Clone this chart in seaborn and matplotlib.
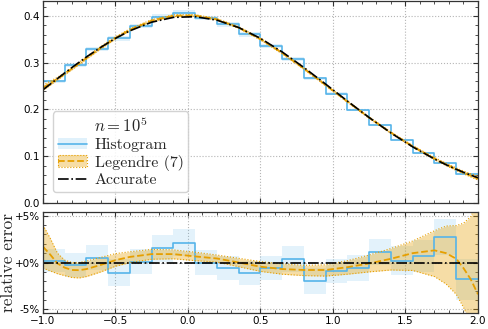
import matplotlib
matplotlib.use('Agg')
import matplotlib.pyplot as plt
import numpy as np
import seaborn as sns
from matplotlib.lines import Line2D
from matplotlib.patches import Patch
from matplotlib.ticker import MultipleLocator

# histogram (20 bins on [-1, 2])
edges = [-1.0, -0.85, -0.7, -0.55, -0.4, -0.25, -0.1, 0.05, 0.2, 0.35, 0.5,
         0.65, 0.8, 0.95, 1.1, 1.25, 1.4, 1.55, 1.7, 1.85, 2.0]
hist_density = [0.2607, 0.2946, 0.3298, 0.3525, 0.3787, 0.3988, 0.4072, 0.3958, 0.3818, 0.3605,
                0.3359, 0.3080, 0.2666, 0.2336, 0.1986, 0.1672, 0.1345, 0.1073, 0.0849, 0.0615]
hist_relerr = [0.2, -0.3, 0.5, -1.1, 0.1, 1.5, 2.1, 0.0, -0.6, -1.1,
               -0.6, 0.4, -2.0, -0.9, -0.6, 1.1, 0.2, 0.7, 2.7, -1.8]
hist_sigma = [1.25, 1.3, 1.35, 1.45, 1.3, 1.4, 1.45, 1.3, 1.3, 1.3,
              1.25, 1.4, 1.4, 1.3, 1.4, 1.4, 1.55, 1.7, 1.9, 2.2]

# smooth curves
x_grid = [-1.0, -0.95, -0.9, -0.85, -0.8, -0.75, -0.7, -0.6, -0.5, -0.4, -0.25, -0.1, 0.05,
          0.2, 0.35, 0.5, 0.65, 0.8, 0.95, 1.1, 1.25, 1.4, 1.55, 1.7, 1.78, 1.85, 1.9, 1.95, 2.0]
accurate = [0.2420, 0.2541, 0.2661, 0.2780, 0.2897, 0.3011, 0.3123, 0.3332, 0.3521, 0.3683,
            0.3867, 0.3970, 0.3984, 0.3910, 0.3752, 0.3521, 0.3230, 0.2897, 0.2541, 0.2179,
            0.1826, 0.1497, 0.1200, 0.0940, 0.0818, 0.0721, 0.0656, 0.0596, 0.0540]
# Legendre (7) relative error in %, middle and band
leg_mid = [1.7, 0.85, -0.1, -0.55, -0.8, -0.82, -0.7, -0.25, 0.25, 0.6, 0.9, 0.9, 0.65,
           0.43, 0.0, -0.45, -0.7, -0.8, -0.8, -0.5, -0.1, 0.4, 1.0, 1.3, 1.0, 0.4, -0.6, -1.8, -3.4]
leg_hi = [4.0, 2.6, 1.0, 0.25, 0.0, 0.0, 0.15, 0.55, 0.95, 1.15, 1.4, 1.35, 1.1,
          0.8, 0.45, 0.1, -0.15, -0.3, -0.25, 0.2, 0.8, 1.5, 2.3, 3.4, 3.9, 3.95, 4.2, 4.9, 6.5]
leg_lo = [-0.6, -0.9, -1.2, -1.4, -1.6, -1.65, -1.5, -1.0, -0.4, 0.0, 0.35, 0.4, 0.2,
          0.05, -0.45, -0.95, -1.25, -1.4, -1.45, -1.25, -1.0, -0.8, -0.85, -1.5, -2.3, -3.4, -4.8, -6.5, -9.0]

blue = '#56B4E9'
orange = '#E69F00'

sns.set_theme(style='ticks')
plt.rcParams.update({
    'font.family': ['DejaVu Sans'],
    'mathtext.fontset': 'cm',
    'axes.edgecolor': '#333333',
    'axes.linewidth': 0.9,
    'xtick.color': '#333333',
    'ytick.color': '#333333',
    'xtick.labelcolor': 'black',
    'ytick.labelcolor': 'black',
    'xtick.labelsize': 7.5,
    'ytick.labelsize': 7.5,
})

fig = plt.figure(figsize=(4.88, 3.29), dpi=100)
ax1 = fig.add_axes([0.088, 0.383, 0.8915, 0.614])
ax2 = fig.add_axes([0.088, 0.0486, 0.8915, 0.307])

xg = np.array(x_grid)
acc = np.array(accurate)
hx = np.array(edges)

# ---- top panel
hy = np.append(hist_density, hist_density[-1])
hs = hy * np.append(hist_sigma, hist_sigma[-1]) / 100
ax1.fill_between(hx, hy - hs, hy + hs, step='post', color=blue, alpha=0.18, lw=0)
sns.lineplot(x=hx, y=hy, drawstyle='steps-post', color=blue, lw=1.2, errorbar=None, ax=ax1)

lm = acc * (1 + np.array(leg_mid) / 100)
lh = acc * (1 + np.array(leg_hi) / 100)
ll = acc * (1 + np.array(leg_lo) / 100)
ax1.fill_between(xg, ll, lh, color=orange, alpha=0.35, lw=0)
for yy in (lh, ll):
    sns.lineplot(x=xg, y=yy, color=orange, lw=0.8, ls=':', errorbar=None, ax=ax1)
sns.lineplot(x=xg, y=lm, color=orange, lw=1.3, ls='--', errorbar=None, ax=ax1)
sns.lineplot(x=xg, y=acc, color='black', lw=1.2, ls='-.', errorbar=None, ax=ax1)

ax1.set_xlim(-1, 2)
ax1.set_ylim(0, 0.432)
ax1.set_xticklabels([])

# ---- bottom panel
ry = np.append(hist_relerr, hist_relerr[-1])
rs = np.append(hist_sigma, hist_sigma[-1])
ax2.fill_between(hx, ry - rs, ry + rs, step='post', color=blue, alpha=0.16, lw=0)
sns.lineplot(x=hx, y=ry, drawstyle='steps-post', color=blue, lw=1.2, errorbar=None, ax=ax2)

ax2.fill_between(xg, leg_lo, leg_hi, color=orange, alpha=0.35, lw=0)
for yy in (leg_hi, leg_lo):
    sns.lineplot(x=xg, y=yy, color=orange, lw=0.8, ls=':', errorbar=None, ax=ax2)
sns.lineplot(x=xg, y=leg_mid, color=orange, lw=1.3, ls='--', errorbar=None, ax=ax2)
sns.lineplot(x=xg, y=(acc / acc - 1) * 100, color='black', lw=1.2, ls='-.', errorbar=None, ax=ax2)

ax2.set_xlim(-1, 2)
ax2.set_ylim(-5.4, 5.4)
ax2.set_yticks([-5, 0, 5])
ax2.set_yticklabels(['-5%', '+0%', '+5%'])
ax2.set_ylabel('relative error', family='cmr10', fontsize=12.5, labelpad=-1)

for ax in (ax1, ax2):
    ax.xaxis.set_major_locator(MultipleLocator(0.5))
    ax.xaxis.set_minor_locator(MultipleLocator(0.1))
    ax.grid(True, which='major', ls=':', color='#b5b5b5', lw=0.8)
    ax.tick_params(which='both', direction='in', top=True, right=True, pad=2)
    ax.tick_params(which='major', length=3.5, width=0.8)
    ax.tick_params(which='minor', length=2, width=0.6)
    ax.set_xlabel('')
ax1.yaxis.set_major_locator(MultipleLocator(0.1))
ax1.yaxis.set_minor_locator(MultipleLocator(0.02))
ax2.yaxis.set_minor_locator(MultipleLocator(1))

handles = [
    (Patch(facecolor=blue, alpha=0.18, lw=0), Line2D([], [], color=blue, lw=1.2)),
    (Patch(facecolor=orange, alpha=0.35, lw=0),
     Patch(facecolor='none', edgecolor=orange, ls=':', lw=0.8),
     Line2D([], [], color=orange, lw=1.3, ls='--')),
    Line2D([], [], color='black', lw=1.2, ls='-.'),
]
leg = ax1.legend(handles, ['Histogram', 'Legendre (7)', 'Accurate'],
                 title='$n = 10^5$', loc='lower left', bbox_to_anchor=(0.005, 0.015),
                 prop=dict(family='cmr10', size=11.5), title_fontsize=12,
                 frameon=True, fancybox=True, framealpha=0.85, edgecolor='#cccccc',
                 handlelength=1.8, handletextpad=0.5, borderpad=0.3, labelspacing=0.15)

fig.savefig('out.png', dpi=100)
